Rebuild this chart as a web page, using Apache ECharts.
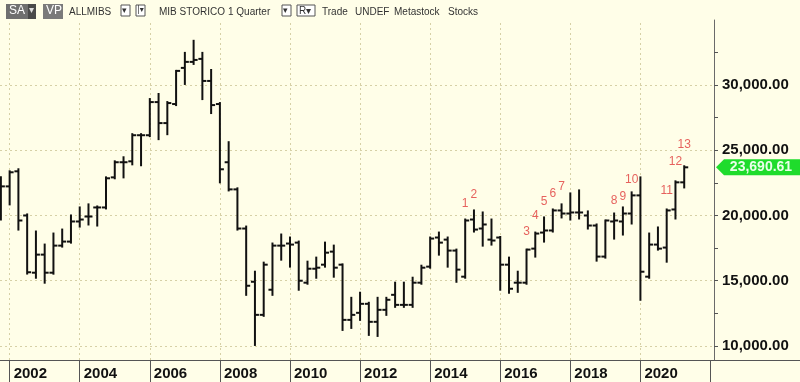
<!DOCTYPE html>
<html>
<head>
<meta charset="utf-8">
<script src="https://cdn.jsdelivr.net/npm/echarts@6/dist/echarts.min.js"></script>
<style>
  html, body { margin: 0; padding: 0; background: #fffee8; }
  #chart { width: 800px; height: 382px; }
</style>
</head>
<body>
<div id="chart"></div>
<script>
// quarterly OHLC, first bar = 2001 Q4, last bar = 2021 Q2
const open = [22385,22230,23385,20000,15615,17000,15615,17690,18000,19540,19920,20615,20615,22920,24080,24150,26150,26150,28690,27080,28540,31310,31770,32000,30310,28540,24080,22000,19000,14920,12385,14310,17690,17850,17920,14850,15920,16230,17230,16230,12000,12540,13230,11850,12770,13920,13150,13150,14850,16080,18310,18150,17310,15310,19690,19000,18150,18310,16230,14850,14850,17460,18690,18850,20385,20150,20230,20000,19230,16850,19540,19540,20150,21540,15310,17770,17540,20460,22540];
const high = [22920,23385,23540,20080,18770,17770,18615,18920,20000,20615,20850,20690,22920,24150,24460,26230,26230,28920,29310,28690,31080,32460,33385,32460,31150,28615,25615,22080,19150,15690,16385,17850,18540,18310,18000,16460,16770,17920,17690,16250,13690,14080,13310,13690,13690,14850,14850,15230,16150,18310,18690,18310,17385,19690,20385,20230,19690,18350,16770,15690,17385,18690,19850,20460,20850,21690,21920,20310,19310,19615,20150,20615,21770,22920,18615,19080,20460,22615,23770];
const low = [19690,20850,18920,15550,15230,14850,15540,17615,17920,19150,19310,19230,20540,22850,22920,23920,23850,26080,25850,26230,28460,30080,31615,28920,27850,22540,21920,18920,13920,10080,12310,13920,16615,16080,14310,14770,15230,16080,15310,11230,11385,12000,10850,10770,12385,13000,13000,13000,14770,16000,17000,16080,14920,15230,18770,17690,17770,14310,14080,14150,14770,16850,18000,18770,19850,19690,19770,19000,16540,16770,18230,18540,19385,13540,15230,17385,16460,19770,22150];
const close = [22230,23310,19615,15650,17000,15615,17690,18000,19540,19690,19920,20615,22850,24080,24080,26150,26150,28690,27080,28615,31080,31770,31920,30310,28460,23540,22000,19000,14615,12385,16230,17690,17690,17770,15000,15920,16000,17150,16000,12000,12385,13230,11850,12770,13540,13150,13150,14850,16000,18230,17920,17310,15850,19615,18920,19310,18080,16230,14385,14850,17385,18615,18850,20385,20150,20230,20230,19230,16850,19615,19615,20150,21540,15690,17770,17460,20385,22540,23690.61];

// axis ticks / labels
const yTickVals = [10000,12500,15000,17500,20000,22500,25000,27500,30000,32500];
const yLabelVals = [10000,15000,20000,25000,30000];
const yearPos = [1,9,17,25,33,41,49,57,65,73];
const yearLabels = ['2002','2004','2006','2008','2010','2012','2014','2016','2018','2020'];

// red wave count labels
const markIdx = [53,54,60,61,62,63,64,70,71,72,76,77,78];
const markVal = [20880,21570,18740,19960,21035,21650,22185,21110,21420,22720,21880,24100,25400];
const markText = ['1','2','3','4','5','6','7','8','9','10','11','12','13'];

const lastPrice = 23690.61;

const ohlc = open.map((o, i) => [i, o, high[i], low[i], close[i]]);

const chart = echarts.init(document.getElementById('chart'));

function renderBar(params, api) {
  const x = api.value(0);
  const pO = api.coord([x, api.value(1)]);
  const pH = api.coord([x, api.value(2)]);
  const pL = api.coord([x, api.value(3)]);
  const pC = api.coord([x, api.value(4)]);
  const w = 4;
  const style = { stroke: '#111', lineWidth: 2 };
  return {
    type: 'group',
    children: [
      { type: 'line', shape: { x1: pH[0], y1: pH[1] - 1, x2: pL[0], y2: pL[1] + 1 }, style: style },
      { type: 'line', shape: { x1: pO[0] - w, y1: pO[1], x2: pO[0], y2: pO[1] }, style: style },
      { type: 'line', shape: { x1: pC[0], y1: pC[1], x2: pC[0] + w, y2: pC[1] }, style: style }
    ]
  };
}

const fmt = v => v.toLocaleString('en-US', { minimumFractionDigits: 2, maximumFractionDigits: 2 });

const gridLines = yLabelVals.map(v => ({ yAxis: v })).concat(yearPos.map(p => ({ xAxis: p })));

// toolbar along the top
const tbFont = '10px "Liberation Sans", Arial, sans-serif';
const toolbar = [
  { type: 'rect', shape: { x: 6, y: 4, width: 22, height: 15 }, style: { fill: '#6f6f6f' } },
  { type: 'rect', shape: { x: 28, y: 4, width: 8, height: 15 }, style: { fill: '#4a4a4a' } },
  { type: 'text', x: 9, y: 5, style: { text: 'SA', fill: '#fff', font: '12px "Liberation Sans", Arial' } },
  { type: 'text', x: 29, y: 5, style: { text: '▾', fill: '#ddd', font: '10px "DejaVu Sans"' } },
  { type: 'rect', shape: { x: 43, y: 4, width: 20, height: 15 }, style: { fill: '#7a7a7a' } },
  { type: 'text', x: 46, y: 5, style: { text: 'VP', fill: '#fff', font: '12px "Liberation Sans", Arial' } },
  { type: 'text', x: 69, y: 7, style: { text: 'ALLMIBS', fill: '#333', font: tbFont } },
  { type: 'rect', shape: { x: 121, y: 5, width: 9, height: 11 }, style: { fill: '#fff', stroke: '#555' } },
  { type: 'text', x: 122, y: 6, style: { text: '▾', fill: '#333', font: '9px "DejaVu Sans"' } },
  { type: 'rect', shape: { x: 136, y: 5, width: 9, height: 11 }, style: { fill: '#fff', stroke: '#555' } },
  { type: 'text', x: 137, y: 6, style: { text: '|▾', fill: '#333', font: '8px "DejaVu Sans"' } },
  { type: 'text', x: 159, y: 7, style: { text: 'MIB STORICO', fill: '#333', font: tbFont } },
  { type: 'text', x: 228, y: 7, style: { text: '1 Quarter', fill: '#333', font: tbFont } },
  { type: 'rect', shape: { x: 282, y: 5, width: 9, height: 11 }, style: { fill: '#fff', stroke: '#555' } },
  { type: 'text', x: 283, y: 6, style: { text: '▾', fill: '#333', font: '9px "DejaVu Sans"' } },
  { type: 'rect', shape: { x: 297, y: 5, width: 18, height: 11 }, style: { fill: '#fff', stroke: '#555' } },
  { type: 'text', x: 299, y: 6, style: { text: 'R▾', fill: '#333', font: '10px "Liberation Sans"' } },
  { type: 'text', x: 322, y: 7, style: { text: 'Trade', fill: '#333', font: tbFont } },
  { type: 'text', x: 355, y: 7, style: { text: 'UNDEF', fill: '#333', font: tbFont } },
  { type: 'text', x: 394, y: 7, style: { text: 'Metastock', fill: '#333', font: tbFont } },
  { type: 'text', x: 448, y: 7, style: { text: 'Stocks', fill: '#333', font: tbFont } },
  // bottom rule continues under the price scale
  { type: 'line', shape: { x1: 714, y1: 360.5, x2: 800, y2: 360.5 }, style: { stroke: '#555', lineWidth: 1 } }
];

const option = {
  backgroundColor: '#fffee8',
  animation: false,
  graphic: toolbar,
  grid: { left: 0, right: 86, top: 20, bottom: 22 },
  xAxis: {
    type: 'value',
    min: -0.1,
    max: 81.4,
    splitLine: { show: false },
    axisLine: { show: true, onZero: false, lineStyle: { color: '#555', width: 1 } },
    axisTick: { show: true, inside: false, length: 22, customValues: yearPos.concat([81]), lineStyle: { color: '#555' } },
    axisLabel: {
      customValues: yearPos,
      formatter: v => yearLabels[yearPos.indexOf(v)] || '',
      align: 'left',
      margin: 6,
      padding: [0, 0, 0, 4],
      color: '#111',
      fontWeight: 'bold',
      fontSize: 15,
      fontFamily: '"Liberation Sans", Arial, sans-serif'
    }
  },
  yAxis: {
    type: 'value',
    position: 'right',
    min: 8925,
    max: 34980,
    splitLine: { show: false },
    axisLine: { show: true, onZero: false, lineStyle: { color: '#6a6a6a', width: 1 } },
    axisTick: { show: true, inside: false, length: 4, customValues: yTickVals, lineStyle: { color: '#555' } },
    axisLabel: {
      customValues: yLabelVals,
      formatter: v => fmt(v),
      margin: 8,
      color: '#111',
      fontWeight: 'bold',
      fontSize: 15,
      fontFamily: '"Liberation Sans", Arial, sans-serif'
    }
  },
  series: [
    {
      type: 'custom',
      renderItem: renderBar,
      clip: true,
      encode: { x: 0, y: [1, 2, 3, 4] },
      data: ohlc,
      z: 3,
      markLine: {
        silent: true,
        symbol: 'none',
        label: { show: false },
        lineStyle: { type: [2, 3], color: '#d6d0a6', width: 1 },
        data: gridLines,
        z: 1
      },
      markPoint: {
        silent: true,
        symbol: 'path://M0,8 L8,0 L84,0 L84,16 L8,16 Z',
        symbolSize: [84, 16],
        symbolOffset: [44, 0],
        itemStyle: { color: '#1fdc2c' },
        label: {
          show: true,
          position: 'inside',
          offset: [3, 0],
          formatter: () => fmt(lastPrice),
          color: '#eaffea',
          fontSize: 14,
          fontWeight: 'bold',
          fontFamily: '"Liberation Sans", Arial, sans-serif'
        },
        data: [{ coord: [81.4, lastPrice] }]
      }
    },
    {
      type: 'scatter',
      symbolSize: 0,
      silent: true,
      z: 4,
      data: markIdx.map((i, k) => [i, markVal[k]]),
      label: {
        show: true,
        position: 'inside',
        formatter: p => markText[p.dataIndex],
        color: '#e03a3a',
        fontSize: 12,
        fontFamily: '"Liberation Sans", Arial, sans-serif'
      }
    }
  ]
};

chart.setOption(option);
</script>
</body>
</html>
